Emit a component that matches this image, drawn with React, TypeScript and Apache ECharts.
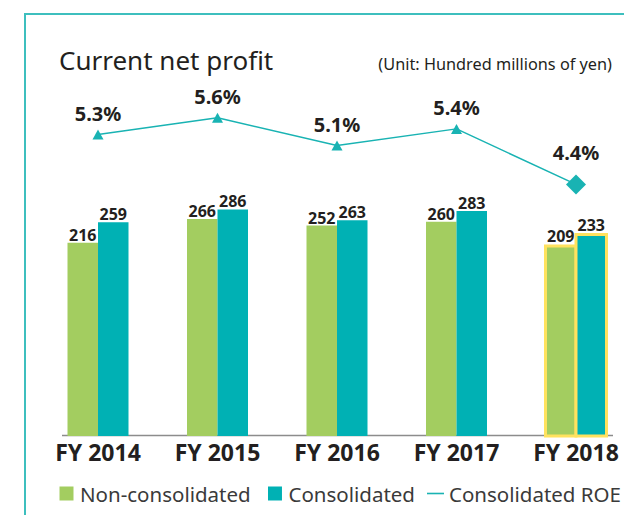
import React, { useEffect, useRef } from "react";
import * as echarts from "echarts";

const categories = ["FY 2014", "FY 2015", "FY 2016", "FY 2017", "FY 2018"];
const nonConsolidated = [216, 266, 252, 260, 209];
const consolidated = [259, 286, 263, 283, 233];
const consolidatedROE = [5.3, 5.6, 5.1, 5.4, 4.4];
const seriesNames = ["Non-consolidated", "Consolidated", "Consolidated ROE"];
const titleText = "Current net profit";
const unitText = "(Unit: Hundred millions of yen)";
const highlightIndex = 4;

const GREEN = "#A3CD60";
const TEAL = "#00B1B4";
const LINE = "#19B3B3";
const YELLOW = "#FFE25E";
const FRAME = "#3DBFBE";
const TEXT = "#231F20";
const LEGEND_TEXT = "#3A3A3A";
const FONT = '"Noto Sans", "Open Sans", sans-serif';

const BAR_MIN = -192;
const BAR_MAX = 517;
const ROE_MIN = -0.13;
const ROE_MAX = 5.92;
const BAR_W = 30.5;

function makeBarSeries(name: string, values: number[], color: string, side: number) {
  return {
    type: "custom",
    name,
    silent: true,
    yAxisIndex: 0,
    itemStyle: { color },
    encode: { x: 0, y: 1 },
    data: values.map((v, i) => [i, v]),
    renderItem: (params: any, api: any) => {
      const idx = api.value(0);
      const val = api.value(1);
      const topPt = api.coord([idx, val]);
      const basePt = api.coord([idx, BAR_MIN]);
      const x = side < 0 ? topPt[0] - BAR_W : topPt[0];
      const hl = idx === highlightIndex;
      return {
        type: "group",
        children: [
          {
            type: "rect",
            shape: { x, y: topPt[1], width: BAR_W, height: basePt[1] - topPt[1] },
            style: hl
              ? { fill: color, stroke: YELLOW, lineWidth: 3 }
              : { fill: color },
          },
          {
            type: "text",
            x: x + BAR_W / 2,
            y: topPt[1] - (hl ? 2 : 0),
            style: {
              text: String(val),
              align: "center",
              verticalAlign: "bottom",
              fontSize: 16,
              fontWeight: "bold",
              fontFamily: FONT,
              fill: TEXT,
            },
          },
        ],
      };
    },
  };
}

export default function App() {
  const ref = useRef<HTMLDivElement>(null);
  useEffect(() => {
    if (!ref.current) return;
    const chart = echarts.init(ref.current, undefined, { renderer: "svg" });
    const option: any = {
      animation: false,
      backgroundColor: "#ffffff",
      title: [
        {
          text: titleText,
          left: 59,
          top: 47,
          padding: 0,
          textStyle: { fontSize: 26, fontWeight: "normal", color: TEXT, fontFamily: FONT },
        },
        {
          text: unitText,
          right: 12,
          top: 55.5,
          padding: 0,
          textStyle: { fontSize: 16.3, fontWeight: "normal", color: TEXT, fontFamily: FONT },
        },
      ],
      legend: {
        left: 59.5,
        top: 483,
        padding: 0,
        itemWidth: 17,
        itemHeight: 14,
        itemGap: 12,
        selectedMode: false,
        textStyle: {
          fontSize: 20.5,
          color: LEGEND_TEXT,
          fontFamily: FONT,
          rich: {
            first: { fontSize: 20.5, color: LEGEND_TEXT, fontFamily: FONT },
            gap: { width: 10, fontSize: 20.5 },
          },
        },
        formatter: (name: string) =>
          name === seriesNames[0] ? `{first|${name}}{gap| }` : name,
        data: [
          { name: seriesNames[0], icon: "path://M0,0H14V14H0Z", itemStyle: { color: GREEN } },
          { name: seriesNames[1], icon: "path://M0,0H14V14H0Z", itemStyle: { color: TEAL } },
          { name: seriesNames[2], icon: "path://M0,0H17V1.6H0Z", itemStyle: { color: LINE } },
        ],
      },
      grid: {
        left: 38.25,
        right: -11.75,
        top: 100,
        bottom: 79,
        containLabel: false,
        outerBoundsMode: "none",
      },
      xAxis: {
        type: "category",
        data: categories,
        axisLine: { show: false },
        axisTick: { show: false },
        splitLine: { show: false },
        axisLabel: { fontSize: 23, fontWeight: "bold", color: TEXT, fontFamily: FONT, margin: 4 },
      },
      yAxis: [
        { type: "value", min: BAR_MIN, max: BAR_MAX, show: false, splitLine: { show: false } },
        { type: "value", min: ROE_MIN, max: ROE_MAX, show: false, splitLine: { show: false } },
      ],
      graphic: [
        { type: "rect", shape: { x: 24, y: 13, width: 2, height: 510 }, style: { fill: FRAME }, silent: true },
        { type: "rect", shape: { x: 24, y: 13, width: 610, height: 2 }, style: { fill: FRAME }, silent: true },
        {
          type: "line",
          shape: { x1: 62, y1: 435.5, x2: 613, y2: 435.5 },
          style: { stroke: "#8C8C8C", lineWidth: 1.5 },
          silent: true,
          z: -1,
        },
      ],
      series: [
        makeBarSeries(seriesNames[0], nonConsolidated, GREEN, -1),
        makeBarSeries(seriesNames[1], consolidated, TEAL, 1),
        {
          type: "line",
          name: seriesNames[2],
          yAxisIndex: 1,
          z: 5,
          silent: true,
          data: consolidatedROE.map((v, i) => ({
            value: v,
            symbol: i === highlightIndex ? "diamond" : "triangle",
            symbolSize: i === highlightIndex ? 20 : [11, 10],
            label: { distance: i === highlightIndex ? 12 : 6 },
          })),
          lineStyle: { color: LINE, width: 1.5 },
          itemStyle: { color: LINE },
          label: {
            show: true,
            position: "top",
            formatter: "{c}%",
            fontSize: 20,
            fontWeight: "bold",
            color: TEXT,
            fontFamily: FONT,
          },
        },
      ],
    };
    chart.setOption(option);
    return () => chart.dispose();
  }, []);
  return (
    <div
      ref={ref}
      style={{ position: "fixed", left: 0, top: 0, width: 624, height: 515, background: "#fff" }}
    />
  );
}
